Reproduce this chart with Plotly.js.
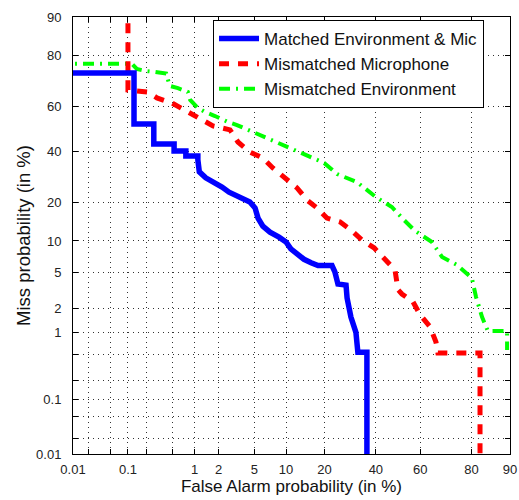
<!DOCTYPE html>
<html>
<head>
<meta charset="utf-8">
<script src="https://cdn.plot.ly/plotly-3.0.1.min.js"></script>
<style>html,body{margin:0;padding:0;background:#fff;}#plot{width:519px;height:500px;}</style>
</head>
<body>
<div id="plot"></div>
<script>
// Values in percent
const faMatched   = [0.005,0.126,0.126,0.26,0.26,0.52,0.52,0.76,0.76,1.1,1.1,1.15,1.39,1.77,2.2,2.66,3.19,3.8,4.5,5.1,5.46,6.1,7.15,8.66,10,11,12.4,14.1,16,18,22.5,23.5,24.6,27.6,28,29.5,31.5,32.3,36.1,36.1];
const missMatched = [73.9,73.9,52.3,52.3,43.2,43.2,40.1,40.1,37.9,37.9,36.2,31.2,28.8,27.2,25.3,23.5,22.2,21.2,20.2,18.3,15.4,13.3,11.9,10.8,9.8,8.5,7.6,6.8,6.3,5.9,5.9,5.1,3.8,3.7,2.66,1.57,1.0,0.53,0.53,0.001];

const faMic   = [0.1,0.1,0.21,0.29,0.485,0.74,1.14,1.71,2.73,3.35,4.5,6.1,7.6,9.8,12.4,14.9,17.7,20.8,25.3,29.5,34,39.2,44.1,48.6,50,51.8,56.8,60,64.3,66.8,67.6,82.6,82.6];
const missMic = [95,67.2,66.4,63.9,61.7,58.6,54.6,51.4,49.6,44.1,39.6,37,32.8,28.8,25,20.8,18.3,15.4,14.4,12.4,10.2,8.7,6.85,5.35,3.3,2.95,2.4,1.67,1.18,0.74,0.52,0.52,0.001];

const faEnv   = [0.005,0.117,0.14,0.19,0.27,0.4,0.45,0.59,0.81,0.87,1.1,1.36,1.81,2.58,3.27,4.85,7.15,10.4,14.6,19.9,24.3,31.9,40,47.2,52.7,57.7,65.1,69.3,75,80.1,81.4,83.2,84.8,89.4,89.4];
const missEnv = [77.2,77.2,75.4,74.7,74.3,73.7,68.9,68,66.4,63,59.5,57.7,55.9,53.2,51.8,48.6,45,41.4,38.3,34.9,30.3,27.2,21.8,18.6,14.9,12.2,9.8,7.15,6,4.4,2.73,1.57,1.04,1.04,0.57];

const seriesNames = ['Matched Environment & Mic','Mismatched Microphone','Mismatched Environment'];

const gridVals  = [0.01,0.02,0.05,0.1,0.2,0.5,1,2,5,10,20,40,60,80,90];
const tickText  = ['0.01','','','0.1','','','1','2','5','10','20','40','60','80','90'];

// inverse standard normal CDF (Acklam)
function ppnd(p){
  const a=[-3.969683028665376e+01,2.209460984245205e+02,-2.759285104469687e+02,1.383577518672690e+02,-3.066479806614716e+01,2.506628277459239e+00];
  const b=[-5.447609879822406e+01,1.615858368580409e+02,-1.556989798598866e+02,6.680131188771972e+01,-1.328068155288572e+01];
  const c=[-7.784894002430293e-03,-3.223964580411365e-01,-2.400758277161838e+00,-2.549732539343734e+00,4.374664141464968e+00,2.938163982698783e+00];
  const d=[7.784695709041462e-03,3.224671290700398e-01,2.445134137142996e+00,3.754408661907416e+00];
  const plow=0.02425, phigh=1-plow; let q,r;
  if(p<plow){q=Math.sqrt(-2*Math.log(p));return (((((c[0]*q+c[1])*q+c[2])*q+c[3])*q+c[4])*q+c[5])/((((d[0]*q+d[1])*q+d[2])*q+d[3])*q+1);}
  if(p<=phigh){q=p-0.5;r=q*q;return (((((a[0]*r+a[1])*r+a[2])*r+a[3])*r+a[4])*r+a[5])*q/(((((b[0]*r+b[1])*r+b[2])*r+b[3])*r+b[4])*r+1);}
  q=Math.sqrt(-2*Math.log(1-p));return -(((((c[0]*q+c[1])*q+c[2])*q+c[3])*q+c[4])*q+c[5])/((((d[0]*q+d[1])*q+d[2])*q+d[3])*q+1);
}
const pr = arr => arr.map(v => ppnd(v/100));

const traces = [
  {x: pr(faEnv), y: pr(missEnv), name: seriesNames[2], legendrank: 3, mode:'lines',
   line:{color:'#00ff00', width:4, dash:'11px,6px,2px,6px'}},
  {x: pr(faMic), y: pr(missMic), name: seriesNames[1], legendrank: 2, mode:'lines',
   line:{color:'#ff0000', width:5, dash:'10px,9px'}},
  {x: pr(faMatched), y: pr(missMatched), name: seriesNames[0], legendrank: 1, mode:'lines',
   line:{color:'#0000ff', width:5.5}}
];

const FONT = 'Liberation Sans, Arial, sans-serif';
const range = [ppnd(0.0001), ppnd(0.9)];
const axisCommon = {
  range: range, tickmode:'array', tickvals: pr(gridVals), ticktext: tickText,
  showgrid:true, gridcolor:'#333', gridwidth:1, griddash:'1px,4px',
  zeroline:false, showline:true, linecolor:'#000', linewidth:1, mirror:'ticks',
  ticks:'inside', ticklen:5, tickcolor:'#000',
  tickfont:{family:FONT, size:13, color:'#222'}
};

const layout = {
  width:519, height:500,
  margin:{l:73, r:9, t:17, b:46},
  paper_bgcolor:'#fff', plot_bgcolor:'#fff',
  showlegend:true,
  legend:{x:0.3204, y:0.993, xanchor:'left', yanchor:'top', bgcolor:'#fff',
          bordercolor:'#000', borderwidth:1, itemwidth:40,
          font:{family:FONT, size:17, color:'#111'}},
  xaxis: Object.assign({}, axisCommon, {
    ticklabelstandoff: 3,
    title:{text:'False Alarm probability (in %)', standoff:4,
           font:{family:FONT, size:17, color:'#111'}}
  }),
  yaxis: Object.assign({}, axisCommon, {
    ticklabelstandoff: 8,
    title:{text:'Miss probability (in %)', standoff:0,
           font:{family:FONT, size:18.5, color:'#111'}}
  }),
  hovermode:false
};

Plotly.newPlot('plot', traces, layout, {staticPlot:true, displayModeBar:false});
</script>
</body>
</html>
